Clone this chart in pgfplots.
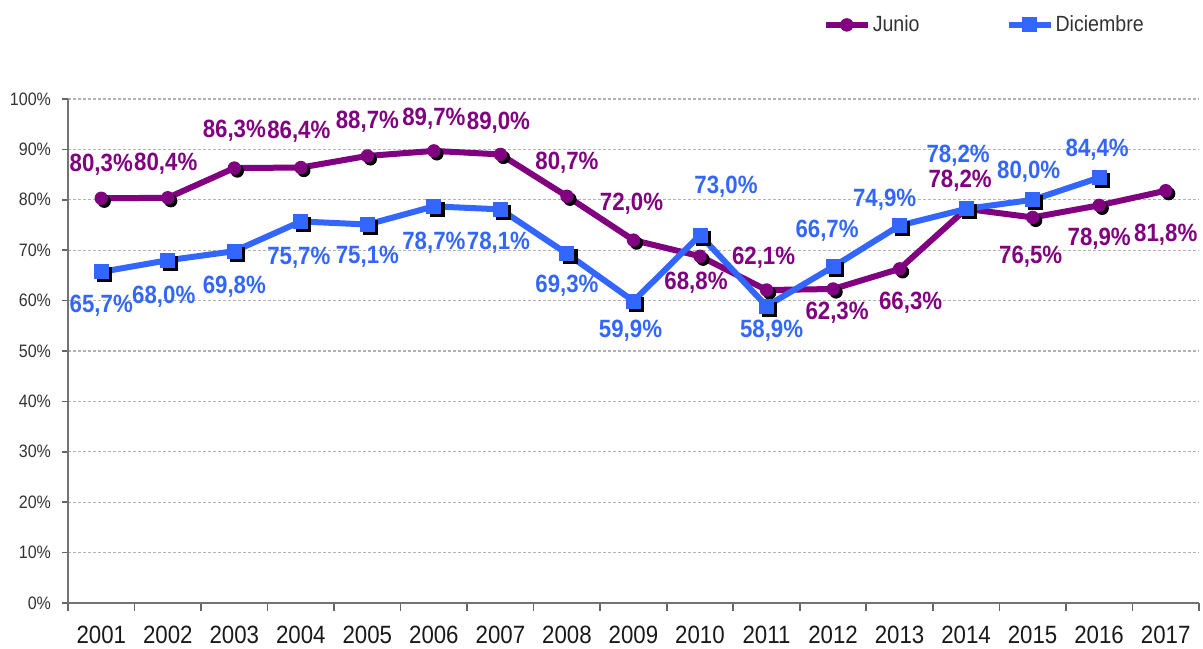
\documentclass[border=0pt]{standalone}
\usepackage{pgfplots}
\pgfplotsset{compat=1.18}
\usepackage{pgfplotstable}
\usepackage{fontspec}
\setmainfont{Liberation Sans}[FakeStretch=0.89]
\definecolor{purp}{RGB}{128,0,128}
\definecolor{azul}{RGB}{51,102,255}
\pgfplotstableread{
x y dx dy
2001 80.3 0 17
2002 80.4 -1 17
2003 86.3 0 18.5
2004 86.4 -1 18
2005 88.7 0 17
2006 89.7 0 16
2007 89.0 -1 16
2008 80.7 0 17
2009 72.0 -1 18
2010 68.8 -2 -13
2011 62.1 -1.5 16
2012 62.3 2 -12
2013 66.3 5.5 -17
2014 78.2 -3 14
2015 76.5 -1 -19.5
2016 78.9 0 -16.5
2017 81.8 0 -22
}\junio
\pgfplotstableread{
x y dx dy
2001 65.7 0 -17
2002 68.0 -2 -18
2003 69.8 0 -17.5
2004 75.7 -1 -18
2005 75.1 0 -16
2006 78.7 0 -18
2007 78.1 -1 -16.5
2008 69.3 0 -16
2009 59.9 -1.5 -15
2010 73.0 13 24
2011 58.9 2.5 -12.5
2012 66.7 -3 18
2013 74.9 -7.5 13
2014 78.2 -4 26.5
2015 80.0 -2 14
2016 84.4 -1 14
}\diciembre
\begin{document}
\begin{tikzpicture}
\useasboundingbox (-34pt,-22.5pt) rectangle (567.5pt,301.5pt);
\begin{axis}[
  scale only axis,
  width=565.5pt, height=252pt,
  xmin=2000.5, xmax=2017.5,
  ymin=0, ymax=100,
  clip=false,
  axis lines*=left,
  axis line style={black!55, line width=1pt},
  xtick={2001,...,2017},
  xticklabels={2001,2002,2003,2004,2005,2006,2007,2008,2009,2010,2011,2012,2013,2014,2015,2016,2017},
  minor xtick={2000.5,2001.5,...,2017.5},
  major x tick style={draw=none},
  minor x tick style={black!60, line width=0.8pt},
  tick align=outside,
  minor tick length=4pt,
  major tick length=3pt,
  ytick={0,10,...,100},
  y tick style={black!60, line width=0.8pt},
  /pgf/number format/assume math mode=true,
  yticklabel={\pgfmathprintnumber{\tick}\%},
  yticklabel style={font=\fontsize{9}{10}\selectfont, text=black!80, xshift=-2pt},
  xticklabel style={font=\fontsize{12.5}{13}\selectfont, text=black!90, yshift=-5pt},
  ymajorgrids,
  major grid style={black!30, dash pattern=on 1.5pt off 1pt, line width=0.6pt},
  legend style={at={(axis description cs:0.667,1.147)}, anchor=west, draw=none, fill=none,
    font=\fontsize{11}{12}\selectfont, text=black!80, inner sep=0pt,
    nodes={inner xsep=1pt},
    /tikz/every even column/.append style={column sep=42pt}},
  legend columns=2,
  legend image code/.code={\draw[mark repeat=2,mark phase=2,#1] plot coordinates {(0pt,0pt)(10.5pt,0pt)(21pt,0pt)};},
]
% shadows
\addplot[draw=none, forget plot, mark=*, mark size=3.1pt, mark options={fill=black, draw=black, xshift=1.5pt, yshift=-1.5pt}] table[x=x,y=y]{\junio};
\addplot[draw=none, forget plot, mark=square*, mark size=3.5pt, mark options={fill=black, draw=black, xshift=1.5pt, yshift=-1.5pt}] table[x=x,y=y]{\diciembre};
% lines
\addplot[purp, line width=3pt, mark=*, mark size=3.1pt, mark options={fill=purp, draw=purp, line width=0.5pt}] table[x=x,y=y]{\junio};
\addlegendentry{Junio}
\addplot[azul, line width=3pt, mark=square*, mark size=3.5pt, mark options={fill=azul, draw=azul, line width=0.5pt}] table[x=x,y=y]{\diciembre};
\addlegendentry{Diciembre}
% labels
\addplot[draw=none, mark=none, forget plot,
  point meta=\thisrow{y},
  visualization depends on={\thisrow{dx}\as\ldx},
  visualization depends on={\thisrow{dy}\as\ldy},
  nodes near coords={\pgfmathprintnumber[fixed,fixed zerofill,precision=1,use comma]{\pgfplotspointmeta}\%},
  every node near coord/.append style={anchor=center, xshift=\ldx pt, yshift=\ldy pt, text=purp, font=\fontsize{12.5}{13}\selectfont\bfseries, inner sep=0pt}
] table[x=x,y=y]{\junio};
\addplot[draw=none, mark=none, forget plot,
  point meta=\thisrow{y},
  visualization depends on={\thisrow{dx}\as\ldx},
  visualization depends on={\thisrow{dy}\as\ldy},
  nodes near coords={\pgfmathprintnumber[fixed,fixed zerofill,precision=1,use comma]{\pgfplotspointmeta}\%},
  every node near coord/.append style={anchor=center, xshift=\ldx pt, yshift=\ldy pt, text=azul, font=\fontsize{12.5}{13}\selectfont\bfseries, inner sep=0pt}
] table[x=x,y=y]{\diciembre};
\end{axis}
\end{tikzpicture}
\end{document}
